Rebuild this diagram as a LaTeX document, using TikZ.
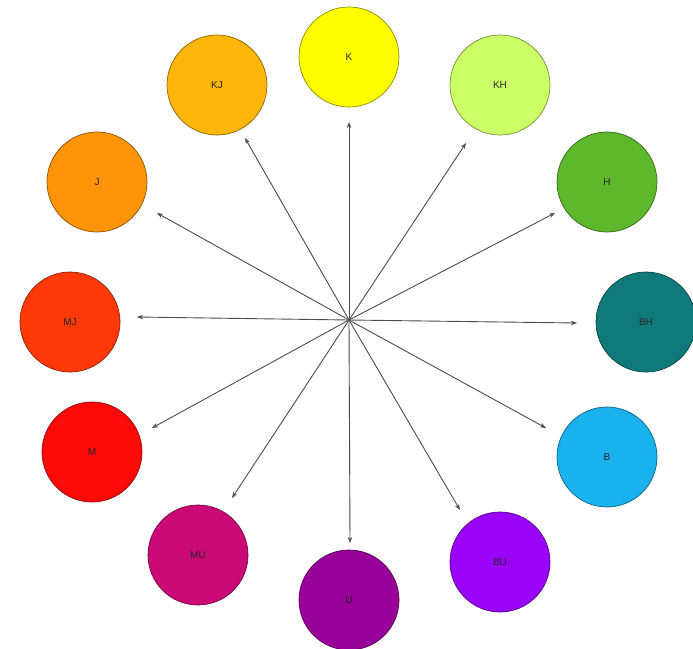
\documentclass[tikz,border=0pt]{standalone}
\usepackage{fontspec}
\setsansfont{Liberation Sans}
\usetikzlibrary{arrows.meta}
\definecolor{cK}{HTML}{FFFF00}
\definecolor{cKH}{HTML}{CCFF66}
\definecolor{cH}{HTML}{5DB82B}
\definecolor{cBH}{HTML}{107A7A}
\definecolor{cB}{HTML}{19B2EE}
\definecolor{cBU}{HTML}{9A05FA}
\definecolor{cU}{HTML}{990099}
\definecolor{cMU}{HTML}{CC0A77}
\definecolor{cM}{HTML}{FF0A0A}
\definecolor{cMJ}{HTML}{FF3A08}
\definecolor{cJ}{HTML}{FF9408}
\definecolor{cKJ}{HTML}{FFB60A}

\begin{document}
\begin{tikzpicture}[
    x=1pt, y=-1pt,
    every node/.style={font=\sffamily},
    hue/.style={
        circle, draw=#1!55!black, fill=#1, line width=0.7pt,
        minimum size=100pt, inner sep=0pt,
        font=\sffamily\fontsize{10}{11}\selectfont, text=black!85
    },
    flow/.style={-{Stealth[length=6pt, width=4.5pt]}, line width=0.9pt, black!70},
]
\useasboundingbox (0,0) rectangle (693,648);

% ===== Colour circles =====
\node[hue=cK]  (K)  at (349,57)  {K};
\node[hue=cKH] (KH) at (500,85)  {KH};
\node[hue=cH]  (H)  at (607,182) {H};
\node[hue=cBH] (BH) at (646,322) {BH};
\node[hue=cB]  (B)  at (607,457) {B};
\node[hue=cBU] (BU) at (500,562) {BU};
\node[hue=cU]  (U)  at (349,600) {U};
\node[hue=cMU] (MU) at (198,555) {MU};
\node[hue=cM]  (M)  at (92,452)  {M};
\node[hue=cMJ] (MJ) at (70,322)  {MJ};
\node[hue=cJ]  (J)  at (97,182)  {J};
\node[hue=cKJ] (KJ) at (217,85)  {KJ};

% ===== Centre and arrow ends =====
\coordinate (c) at (349,320);
\coordinate (toK)  at (349,122);
\coordinate (toKH) at (466,143);
\coordinate (toH)  at (555,213);
\coordinate (toBH) at (577,323);
\coordinate (toB)  at (546,428);
\coordinate (toBU) at (460,510);
\coordinate (toU)  at (350,543);
\coordinate (toMU) at (232,498);
\coordinate (toM)  at (152,428);
\coordinate (toMJ) at (137,317);
\coordinate (toJ)  at (157,213);
\coordinate (toKJ) at (245,138);

% ===== Arrows =====
\draw[flow] (c) -- (toK);
\draw[flow] (c) -- (toKH);
\draw[flow] (c) -- (toH);
\draw[flow] (c) -- (toBH);
\draw[flow] (c) -- (toB);
\draw[flow] (c) -- (toBU);
\draw[flow] (c) -- (toU);
\draw[flow] (c) -- (toMU);
\draw[flow] (c) -- (toM);
\draw[flow] (c) -- (toMJ);
\draw[flow] (c) -- (toJ);
\draw[flow] (c) -- (toKJ);

\end{tikzpicture}
\end{document}
